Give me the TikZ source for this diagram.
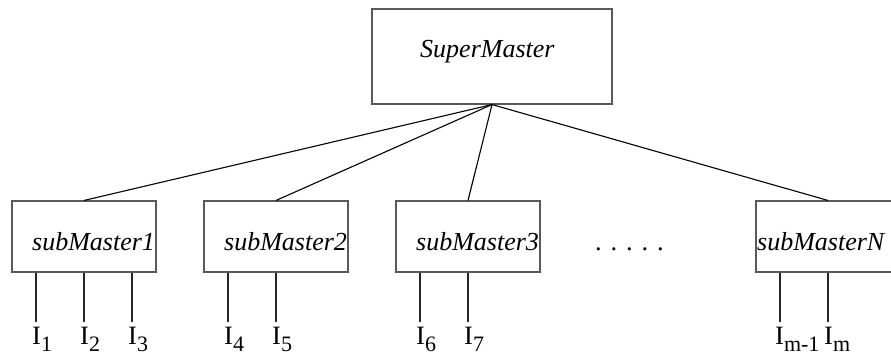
\documentclass[tikz,border=0pt]{standalone}
\usepackage{fontspec}
\setmainfont{Liberation Serif}
\usetikzlibrary{calc}
\newcommand{\Isb}[1]{I\raisebox{-6.5pt}{\fontsize{22}{22}\selectfont #1}}
\tikzset{
  boxst/.style={draw=black!65, line width=1.1pt, rectangle, inner sep=0pt},
  txt/.style={inner sep=0pt, anchor=base west, font=\fontsize{26}{26}\selectfont\itshape},
  ilbl/.style={inner sep=0pt, anchor=base west, font=\fontsize{26.5}{26.5}\selectfont},
  conn/.style={draw=black, line width=1.1pt},
  lead/.style={draw=black!85, line width=1.4pt}
}
\begin{document}
\begin{tikzpicture}[x=1pt,y=-1pt]
\useasboundingbox (0,0) rectangle (891,354);
% boxes
\node[boxst, minimum width=240pt, minimum height=95pt] (sm) at (492,56.5) {};
\node[boxst, minimum width=144pt, minimum height=71pt] (s1) at (84,236.5) {};
\node[boxst, minimum width=144pt, minimum height=71pt] (s2) at (276,236.5) {};
\node[boxst, minimum width=144pt, minimum height=71pt] (s3) at (468,236.5) {};
\node[boxst, minimum width=144pt, minimum height=71pt] (sn) at (828,236.5) {};
% texts
\node[txt] (smt) at (420,57) {SuperMaster};
\node[txt] (s1t) at (32,250) {subMaster1};
\node[txt] (s2t) at (224,250) {subMaster2};
\node[txt] (s3t) at (416,250) {subMaster3};
\node[txt] (snt) at (757,250) {subMasterN};
\node[ilbl] (dots) at (595,250) {. . . . .};
% connectors
\draw[conn] (sm.south) -- (s1.north);
\draw[conn] (sm.south) -- (s2.north);
\draw[conn] (sm.south) -- (s3.north);
\draw[conn] (sm.south) -- (sn.north);
% leads
\coordinate (e1) at (36,322);
\coordinate (e2) at (84,322);
\coordinate (e3) at (132,322);
\coordinate (e4) at (228,322);
\coordinate (e5) at (276,322);
\coordinate (e6) at (420,322);
\coordinate (e7) at (468,322);
\coordinate (e8) at (780,322);
\coordinate (e9) at (828,322);
\draw[lead] (e1 |- s1.south) -- (e1);
\draw[lead] (e2 |- s1.south) -- (e2);
\draw[lead] (e3 |- s1.south) -- (e3);
\draw[lead] (e4 |- s2.south) -- (e4);
\draw[lead] (e5 |- s2.south) -- (e5);
\draw[lead] (e6 |- s3.south) -- (e6);
\draw[lead] (e7 |- s3.south) -- (e7);
\draw[lead] (e8 |- sn.south) -- (e8);
\draw[lead] (e9 |- sn.south) -- (e9);
% labels
\node[ilbl] (i1) at (32,344.5) {\Isb{1}};
\node[ilbl] (i2) at (80,344.5) {\Isb{2}};
\node[ilbl] (i3) at (128,344.5) {\Isb{3}};
\node[ilbl] (i4) at (224,344.5) {\Isb{4}};
\node[ilbl] (i5) at (272,344.5) {\Isb{5}};
\node[ilbl] (i6) at (416,344.5) {\Isb{6}};
\node[ilbl] (i7) at (464,344.5) {\Isb{7}};
\node[ilbl] (i8) at (775,344.5) {\Isb{m-1}};
\node[ilbl] (i9) at (824,344.5) {\Isb{m}};
\end{tikzpicture}
\end{document}
